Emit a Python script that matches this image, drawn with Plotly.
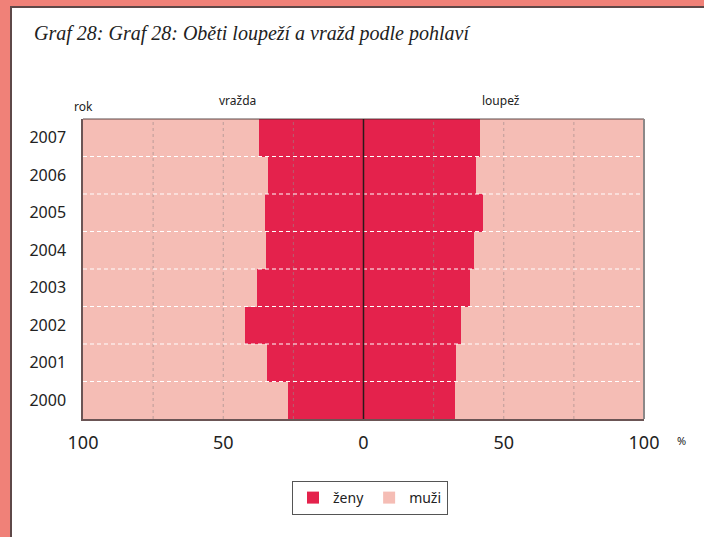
import plotly.graph_objects as go

years = [2000, 2001, 2002, 2003, 2004, 2005, 2006, 2007]
vrazda_zeny = [26.8, 34.3, 42.1, 37.8, 34.6, 35.0, 33.9, 37.1]
loupez_zeny = [32.6, 33.0, 34.8, 38.0, 39.4, 42.6, 40.1, 41.5]
tick_vals = [-100, -50, 0, 50, 100]
tick_text = ["100", "50", "0", "50", "100"]
grid_vals = [-75, -50, -25, 25, 50, 75]

RED = "#E4224C"
PINK = "#F5BDB5"
SALMON = "#F08178"
DARK = "#5E4848"

W, H = 704, 537
ML, MR, MT, MB = 83, 60, 119, 118
PW, PH = W - ML - MR, H - MT - MB

def px_x(px):
    return (px - ML) / PW

def px_y(py):
    return (H - MB - py) / PH

def path(points):
    return "M " + " L ".join(f"{px_x(a):.5f},{px_y(b):.5f}" for a, b in points) + " Z"

fig = go.Figure()

# vražda (left)
fig.add_trace(go.Bar(y=years, x=[-v for v in vrazda_zeny], base=0, orientation="h",
                     marker=dict(color=RED, line=dict(width=0)), width=1,
                     name="ženy", legendgroup="z", showlegend=True))
fig.add_trace(go.Bar(y=years, x=[-(100 - v) for v in vrazda_zeny], base=[-v for v in vrazda_zeny],
                     orientation="h", marker=dict(color=PINK, line=dict(width=0)), width=1,
                     name="muži", legendgroup="m", showlegend=True))
# loupež (right)
fig.add_trace(go.Bar(y=years, x=loupez_zeny, base=0, orientation="h",
                     marker=dict(color=RED, line=dict(width=0)), width=1,
                     name="ženy", legendgroup="z", showlegend=False))
fig.add_trace(go.Bar(y=years, x=[100 - v for v in loupez_zeny], base=loupez_zeny,
                     orientation="h", marker=dict(color=PINK, line=dict(width=0)), width=1,
                     name="muži", legendgroup="m", showlegend=False))

shapes = []
# vertical dashed grid lines above bars
for g in grid_vals:
    shapes.append(dict(type="line", xref="x", yref="paper", x0=g, x1=g, y0=0, y1=1,
                       line=dict(color="rgba(150,135,135,0.6)", width=1, dash="3px,3px"),
                       layer="above"))
# horizontal white dashed lines at row boundaries
for yv in years[:-1]:
    shapes.append(dict(type="line", xref="paper", yref="y", x0=0, x1=1, y0=yv + 0.5, y1=yv + 0.5,
                       line=dict(color="white", width=1, dash="4px,3px"), layer="above"))
# top and right frame lines (lighter)
shapes.append(dict(type="line", xref="paper", yref="paper", x0=0, x1=1, y0=1, y1=1,
                   line=dict(color="rgba(60,40,40,0.55)", width=1.5), layer="above"))
shapes.append(dict(type="line", xref="paper", yref="paper", x0=1, x1=1, y0=0, y1=1,
                   line=dict(color="#8c8888", width=2), layer="above"))
# zero line
shapes.append(dict(type="line", xref="x", yref="paper", x0=0, x1=0, y0=0, y1=1,
                   line=dict(color="#2a1a1a", width=1.5), layer="above"))
# outer salmon frame (left and top) with dark inner line, as L-shaped paths
shapes.append(dict(type="path", xref="paper", yref="paper",
                   path=path([(0, 0), (W, 0), (W, 8), (12, 8), (12, H), (0, H)]),
                   fillcolor=DARK, line=dict(width=0), layer="above"))
shapes.append(dict(type="path", xref="paper", yref="paper",
                   path=path([(0, 0), (W, 0), (W, 6), (10, 6), (10, H), (0, H)]),
                   fillcolor=SALMON, line=dict(width=0), layer="above"))

annotations = [
    dict(text="<i>Graf 28: Graf 28: Oběti loupeží a vražd podle pohlaví</i>", xref="paper", yref="paper",
         x=px_x(32), y=px_y(33), xanchor="left", yanchor="middle", showarrow=False,
         font=dict(family="Liberation Serif", size=20, color="#222")),
    dict(text="rok", xref="paper", yref="paper", x=px_x(83), y=px_y(106), xanchor="center",
         yanchor="middle", showarrow=False, font=dict(family="Noto Sans", size=12, color="#222")),
    dict(text="vražda", xref="x", yref="paper", x=-45, y=px_y(100), xanchor="center",
         yanchor="middle", showarrow=False, font=dict(family="Noto Sans", size=12, color="#222")),
    dict(text="loupež", xref="x", yref="paper", x=49, y=px_y(100), xanchor="center",
         yanchor="middle", showarrow=False, font=dict(family="Noto Sans", size=12, color="#222")),
    dict(text="%", xref="paper", yref="paper", x=px_x(681), y=px_y(440), xanchor="center",
         yanchor="middle", showarrow=False, font=dict(family="Noto Sans", size=11, color="#222")),
]

fig.update_layout(
    width=W, height=H,
    margin=dict(l=ML, r=MR, t=MT, b=MB),
    paper_bgcolor="white", plot_bgcolor="white",
    barmode="overlay", bargap=0,
    shapes=shapes, annotations=annotations,
    font=dict(family="Noto Sans", color="#222"),
    legend=dict(orientation="h", x=px_x(370), y=px_y(481), xanchor="center", yanchor="top",
                bordercolor="#555", borderwidth=1, bgcolor="white",
                font=dict(size=14, family="Noto Sans", color="#222"), traceorder="normal",
                itemsizing="constant"),
    xaxis=dict(range=[-100, 100], tickvals=tick_vals, ticktext=tick_text, showgrid=False,
               zeroline=False, showline=True, linecolor="#6b5555", linewidth=1.5, mirror=False,
               ticks="", tickfont=dict(size=18, family="Noto Sans", color="#222"),
               ticklabelstandoff=7, fixedrange=True, layer="above traces"),
    yaxis=dict(range=[1999.5, 2007.5], tickvals=years, ticktext=[str(y) for y in years],
               showgrid=False, zeroline=False, showline=True, linecolor="#6b5555", linewidth=1.5,
               mirror=False, ticks="", tickfont=dict(size=16, family="Noto Sans", color="#222"),
               ticklabelstandoff=12, fixedrange=True, layer="above traces"),
)

fig.write_html("out.html", config={"displayModeBar": False},
               post_script="document.body.style.margin='0';document.body.style.overflow='hidden';")
